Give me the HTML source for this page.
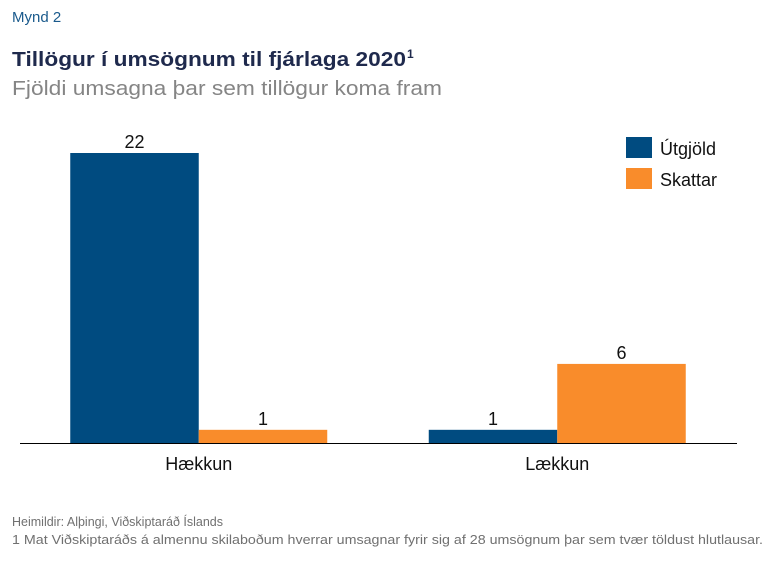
<!DOCTYPE html>
<html><head><meta charset="utf-8">
<style>
html,body{margin:0;padding:0;background:#fff;}
svg{display:block;font-family:"Liberation Sans",sans-serif;}
</style></head>
<body>
<svg id="chart" width="775" height="565" viewBox="0 0 775 565">
  <text x="12" y="22" font-size="15" fill="#1a5a8c">Mynd 2</text>
  <text x="12" y="66" font-size="20" font-weight="bold" fill="#1f2a4d" textLength="394" lengthAdjust="spacingAndGlyphs">Tillögur í umsögnum til fjárlaga 2020</text>
  <text x="407" y="58" font-size="12" font-weight="bold" fill="#1f2a4d">1</text>
  <text x="12" y="95" font-size="20" fill="#858585" textLength="430" lengthAdjust="spacingAndGlyphs">Fjöldi umsagna þar sem tillögur koma fram</text>
  <g id="bars"></g>
  <line x1="20" y1="443.5" x2="737" y2="443.5" stroke="#000" stroke-width="1"/>
  <g id="legend"></g>
  <text x="12" y="526" font-size="12.5" fill="#707070">Heimildir: Alþingi, Viðskiptaráð Íslands</text>
  <text x="12" y="544" font-size="12.5" fill="#707070" textLength="751" lengthAdjust="spacingAndGlyphs">1 Mat Viðskiptaráðs á almennu skilaboðum hverrar umsagnar fyrir sig af 28 umsögnum þar sem tvær töldust hlutlausar.</text>
</svg>
<script>
const categories = ["Hækkun", "Lækkun"];
const seriesNames = ["Útgjöld", "Skattar"];
const utgjold = [22, 1];
const skattar = [1, 6];

const NS = "http://www.w3.org/2000/svg";
const colors = ["#004b80", "#f98c2b"];
const baseY = 443, pxPerUnit = 290 / 22;
const plotLeft = 20, plotRight = 737;
const groupW = (plotRight - plotLeft) / categories.length;
const barW = 128.5;
function y(v){ return baseY - v * pxPerUnit; }
function groupCenter(i){ return plotLeft + groupW * (i + 0.5) - 0.5; }

const barsG = document.getElementById("bars");
const series = [utgjold, skattar];
categories.forEach((cat, i) => {
  const cx = groupCenter(i);
  series.forEach((vals, s) => {
    const x = cx - barW + s * barW;
    const r = document.createElementNS(NS, "rect");
    r.setAttribute("x", x);
    r.setAttribute("y", y(vals[i]));
    r.setAttribute("width", barW);
    r.setAttribute("height", baseY - y(vals[i]));
    r.setAttribute("fill", colors[s]);
    
    
    barsG.appendChild(r);
    const t = document.createElementNS(NS, "text");
    t.setAttribute("x", x + barW / 2);
    t.setAttribute("y", y(vals[i]) - 5);
    t.setAttribute("text-anchor", "middle");
    t.setAttribute("font-size", "18");
    t.setAttribute("fill", "#111");
    t.textContent = vals[i];
    
    
    barsG.appendChild(t);
  });
  const lbl = document.createElementNS(NS, "text");
  lbl.setAttribute("x", cx);
  lbl.setAttribute("y", 470);
  lbl.setAttribute("text-anchor", "middle");
  lbl.setAttribute("font-size", "18");
  lbl.setAttribute("fill", "#111");
  lbl.textContent = cat;
  
  
  barsG.appendChild(lbl);
});

const legG = document.getElementById("legend");
seriesNames.forEach((name, s) => {
  const r = document.createElementNS(NS, "rect");
  r.setAttribute("x", 626);
  r.setAttribute("y", 137 + s * 31);
  r.setAttribute("width", 26);
  r.setAttribute("height", 21);
  r.setAttribute("fill", colors[s]);
  
  
  legG.appendChild(r);
  const t = document.createElementNS(NS, "text");
  t.setAttribute("x", 660);
  t.setAttribute("y", 155 + s * 31);
  t.setAttribute("font-size", "18");
  t.setAttribute("fill", "#111");
  t.textContent = name;
  
  
  legG.appendChild(t);
});
</script>
</body></html>
